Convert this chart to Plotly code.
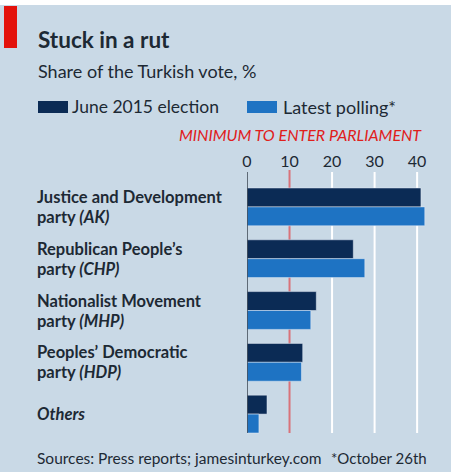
import plotly.graph_objects as go

categories = ["AK", "CHP", "MHP", "HDP", "Others"]
label_line1 = ["Justice and Development", "Republican People’s", "Nationalist Movement",
               "Peoples’ Democratic", "<i>Others</i>"]
label_line2 = ["party <i>(AK)</i>", "party <i>(CHP)</i>", "party <i>(MHP)</i>",
               "party <i>(HDP)</i>", ""]
june_2015 = [40.9, 25.0, 16.3, 13.1, 4.7]
latest_polling = [41.8, 27.7, 15.0, 12.8, 2.8]
tick_vals = [0, 10, 20, 30, 40]
threshold = 10

W, H = 451, 472
L, R, T, B = 247, 432, 181, 440  # plot area in pixels

def px(x):
    return (x - L) / (R - L)

def py(y):
    return (B - y) / (B - T)

BG = "#c9d9e6"
DARK = "#0b2b55"
BLUE = "#1e73c3"
TXT = "#1d2934"
RED = "#e0201b"
FONT = "Lato"

fig = go.Figure()
fig.add_trace(go.Bar(y=categories, x=june_2015, orientation="h", marker_color=DARK,
                     name="June 2015 election", showlegend=False))
fig.add_trace(go.Bar(y=categories, x=latest_polling, orientation="h", marker_color=BLUE,
                     name="Latest polling*", showlegend=False))

shapes = []
for v in tick_vals[2:]:
    shapes.append(dict(type="line", xref="x", yref="paper", x0=v, x1=v,
                       y0=py(433), y1=py(172), line=dict(color="white", width=2), layer="below"))
shapes.append(dict(type="line", xref="x", yref="paper", x0=threshold, x1=threshold,
                   y0=py(433), y1=py(170), line=dict(color="#d9737a", width=2), layer="below"))
shapes.append(dict(type="line", xref="x", yref="paper", x0=0, x1=0,
                   y0=py(433), y1=py(172), line=dict(color="#3a4450", width=1.5), layer="above"))
shapes.append(dict(type="rect", xref="paper", yref="paper", x0=px(4), x1=px(17),
                   y0=py(48), y1=py(6), fillcolor="#e3120b", line=dict(width=0)))
shapes.append(dict(type="rect", xref="paper", yref="paper", x0=px(0), x1=px(W),
                   y0=py(5), y1=py(0), fillcolor="white", line=dict(width=0)))
shapes.append(dict(type="rect", xref="paper", yref="paper", x0=px(38), x1=px(68),
                   y0=py(113), y1=py(101), fillcolor=DARK, line=dict(width=0)))
shapes.append(dict(type="rect", xref="paper", yref="paper", x0=px(247), x1=px(277),
                   y0=py(113), y1=py(101), fillcolor=BLUE, line=dict(width=0)))

ann = []
def text(x, y, s, size, color=TXT, anchor="left"):
    ann.append(dict(xref="paper", yref="paper", x=px(x), y=py(y), text=s, showarrow=False,
                    xanchor=anchor, yanchor="middle", font=dict(family=FONT, size=size, color=color)))

text(36, 39, "<b>Stuck in a rut</b>", 22.5)
text(36, 71, "Share of the Turkish vote, %", 18)
text(70, 107, "June 2015 election", 17.5)
text(281, 107, "Latest polling*", 18)
text(424, 135, "<i>MINIMUM TO ENTER PARLIAMENT</i>", 16, RED, "right")
text(35, 458, "Sources: Press reports; jamesinturkey.com", 15.5)
text(429, 458, "*October 26th", 15, TXT, "right")

for c, l1, l2 in zip(categories, label_line1, label_line2):
    if l2:
        shifts = [(l1, 10), (l2, -10)]
    else:
        shifts = [(l1, 0)]
    for s, sh in shifts:
        ann.append(dict(xref="paper", yref="y", x=px(35), y=c, yshift=sh, text="<b>" + s + "</b>",
                        showarrow=False, xanchor="left", yanchor="middle", align="left",
                        font=dict(family=FONT, size=16.5, color=TXT)))

fig.update_layout(
    width=W, height=H,
    margin=dict(l=L, r=W - R, t=T, b=H - B, pad=0),
    paper_bgcolor=BG, plot_bgcolor=BG,
    barmode="group", bargap=0.27, bargroupgap=0,
    shapes=shapes, annotations=ann,
    showlegend=False,
    xaxis=dict(range=[0, 43.5], side="top", tickvals=tick_vals, showgrid=False, zeroline=False,
               showline=False, ticks="", ticklabelstandoff=10,
               tickfont=dict(family=FONT, size=16, color=TXT)),
    yaxis=dict(autorange="reversed", showticklabels=False, showgrid=False, zeroline=False,
               showline=False, ticks=""),
)

fig.write_html("out.html", config={"displayModeBar": False},
               post_script="document.body.style.margin='0';document.body.style.overflow='hidden';")
